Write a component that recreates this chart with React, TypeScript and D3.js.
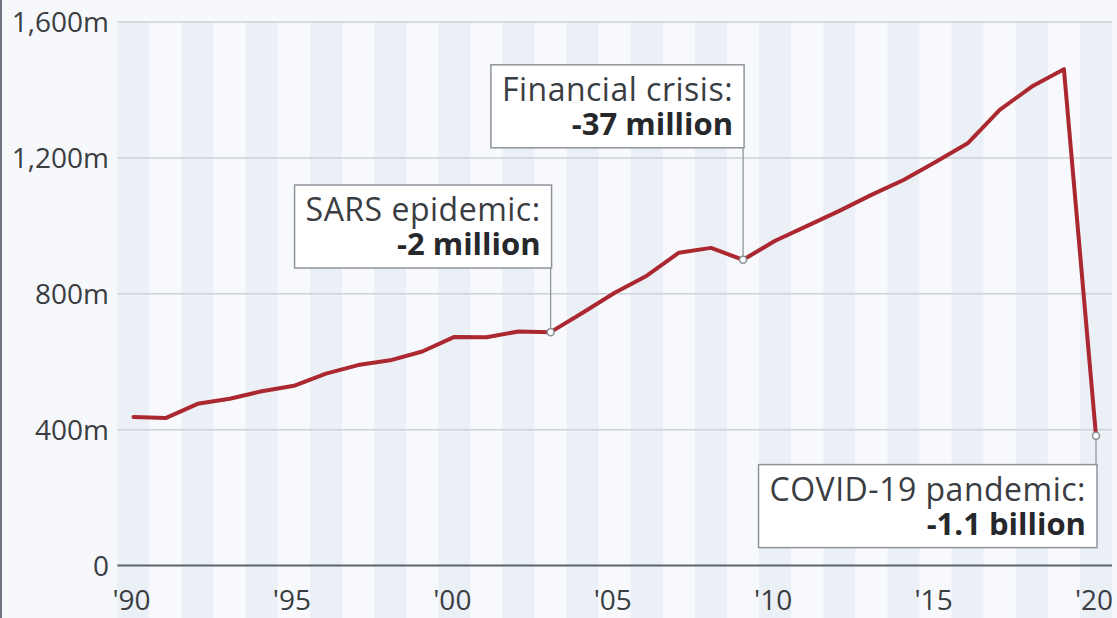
import React, { useEffect, useRef } from "react";
import * as d3 from "d3";

const years: number[] = [
  1990, 1991, 1992, 1993, 1994, 1995, 1996, 1997, 1998, 1999, 2000, 2001, 2002, 2003, 2004, 2005,
  2006, 2007, 2008, 2009, 2010, 2011, 2012, 2013, 2014, 2015, 2016, 2017, 2018, 2019, 2020,
];
const arrivals: number[] = [
  437, 434, 476, 491, 513, 529, 565, 590, 604, 630, 673, 672, 689, 687, 744, 803,
  853, 921, 935, 900, 956, 1000, 1044, 1091, 1135, 1188, 1243, 1341, 1410, 1461, 382,
];
const yTicks: number[] = [0, 400, 800, 1200, 1600];
const yTickLabels: string[] = ["0", "400m", "800m", "1,200m", "1,600m"];
const xTicks: number[] = [1990, 1995, 2000, 2005, 2010, 2015, 2020];
const xTickLabels: string[] = ["'90", "'95", "'00", "'05", "'10", "'15", "'20"];

const annotationYears: number[] = [2003, 2009, 2020];
const annotationTitles: string[] = ["SARS epidemic:", "Financial crisis:", "COVID-19 pandemic:"];
const annotationValues: string[] = ["-2 million", "-37 million", "-1.1 billion"];
// layout: box top position expressed in axis units
const annotationBoxTop: number[] = [1120, 1474, 297];

const W = 1117;
const H = 618;
const FONT = "'Open Sans', 'Noto Sans', sans-serif";

export default function App() {
  const ref = useRef<SVGSVGElement | null>(null);

  useEffect(() => {
    const svg = d3.select(ref.current);
    svg.selectAll("*").remove();

    const x = d3.scaleLinear().domain([1990, 2020]).range([133.5, 1096]);
    const y = d3.scaleLinear().domain([0, 1600]).range([565.5, 22]);
    const step = x(1991) - x(1990);
    const plotLeft = x(1990) - step / 2;
    const plotRight = 1112;

    svg.append("rect").attr("x", 0).attr("y", 0).attr("width", W).attr("height", H).attr("fill", "#f6f8fb");

    // stripes
    svg
      .append("g")
      .selectAll("rect")
      .data(years)
      .join("rect")
      .attr("x", (d) => x(d) - step / 2)
      .attr("y", y(1600))
      .attr("width", (d) => Math.min(step, plotRight - (x(d) - step / 2)))
      .attr("height", H - y(1600))
      .attr("fill", (d) => (d % 2 === 0 ? "#ebf0f6" : "#f7f9fc"));

    // left border
    svg.append("line").attr("x1", 1).attr("x2", 1).attr("y1", 0).attr("y2", H).attr("stroke", "#6f7680").attr("stroke-width", 2);

    // grid
    svg
      .append("g")
      .selectAll("line")
      .data(yTicks)
      .join("line")
      .attr("x1", plotLeft)
      .attr("x2", plotRight)
      .attr("y1", (d) => y(d))
      .attr("y2", (d) => y(d))
      .attr("stroke", (d) => (d === 0 ? "#5d636b" : "#cdd2d8"))
      .attr("stroke-width", (d) => (d === 0 ? 2 : 1.5));

    // y labels
    svg
      .append("g")
      .selectAll("text")
      .data(yTicks)
      .join("text")
      .attr("x", 109)
      .attr("y", (d) => y(d))
      .attr("dy", "0.36em")
      .attr("text-anchor", "end")
      .attr("font-family", FONT)
      .attr("font-size", 28)
      .attr("fill", "#3a3d42")
      .text((d, i) => yTickLabels[i]);

    // x labels
    svg
      .append("g")
      .selectAll("text")
      .data(xTicks)
      .join("text")
      .attr("x", (d) => x(d) - 2)
      .attr("y", 610)
      .attr("text-anchor", "middle")
      .attr("font-family", FONT)
      .attr("font-size", 28)
      .attr("fill", "#3a3d42")
      .text((d, i) => xTickLabels[i]);

    // line
    const line = d3
      .line<number>()
      .x((d, i) => x(years[i]))
      .y((d) => y(d));
    svg
      .append("path")
      .datum(arrivals)
      .attr("d", line)
      .attr("fill", "none")
      .attr("stroke", "#ac2830")
      .attr("stroke-width", 4)
      .attr("stroke-linejoin", "round")
      .attr("stroke-linecap", "round");

    // annotations
    annotationYears.forEach((yr, i) => {
      const idx = years.indexOf(yr);
      const px = x(yr);
      const py = y(arrivals[idx]);
      const top = y(annotationBoxTop[i]);
      const boxH = 83;
      const g = svg.append("g");
      const leader = g.append("line").attr("x1", px).attr("x2", px).attr("stroke", "#8a8f96").attr("stroke-width", 1.2);
      const rect = g.append("rect").attr("fill", "#ffffff").attr("stroke", "#8f949b").attr("stroke-width", 1.5);
      const tx = px - 10;
      const t1 = g
        .append("text")
        .attr("x", tx)
        .attr("y", top + 36)
        .attr("text-anchor", "end")
        .attr("font-family", FONT)
        .attr("font-size", 32)
        .attr("letter-spacing", 0.5)
        .attr("fill", "#3a3d42")
        .text(annotationTitles[i]);
      const t2 = g
        .append("text")
        .attr("x", tx)
        .attr("y", top + 70)
        .attr("text-anchor", "end")
        .attr("font-family", FONT)
        .attr("font-size", 31)
        .attr("font-weight", 700)
        .attr("fill", "#26282c")
        .text(annotationValues[i]);
      const w1 = (t1.node() as SVGTextElement).getComputedTextLength();
      const w2 = (t2.node() as SVGTextElement).getComputedTextLength();
      const wBox = Math.max(w1, w2) + 22;
      rect
        .attr("x", px + 1 - wBox)
        .attr("y", top)
        .attr("width", wBox)
        .attr("height", boxH);
      if (top > py) {
        leader.attr("y1", py).attr("y2", top);
      } else {
        leader.attr("y1", top + boxH).attr("y2", py);
      }
      g.append("circle").attr("cx", px).attr("cy", py).attr("r", 3.5).attr("fill", "#ffffff").attr("stroke", "#8a8f96").attr("stroke-width", 1.5);
    });
  }, []);

  return (
    <svg
      ref={ref}
      width={W}
      height={H}
      style={{ position: "absolute", left: 0, top: 0, display: "block" }}
    />
  );
}
